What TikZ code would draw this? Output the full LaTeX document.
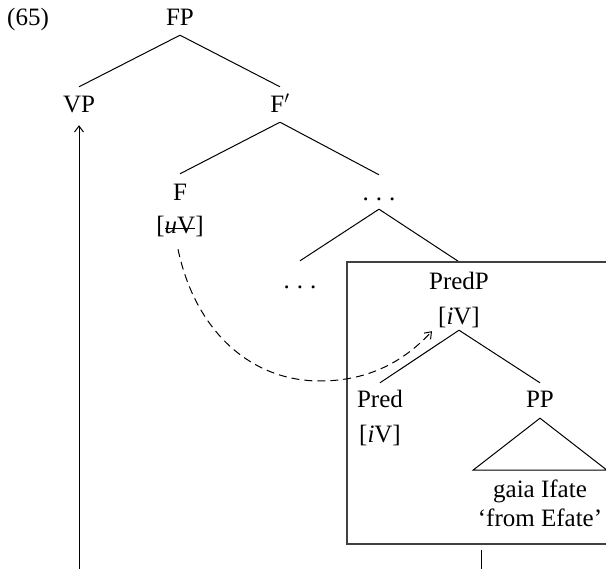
\documentclass[tikz,border=0pt]{standalone}
\usepackage{fontspec}
\setmainfont{Liberation Serif}
\usetikzlibrary{arrows.meta}
% strike a horizontal rule through the argument
\newcommand\strikethru[1]{\setbox0\hbox{#1}\rlap{\rule[0.2em]{\wd0}{0.9pt}}\box0}
\begin{document}
\begin{tikzpicture}[x=1pt,y=-1pt,
  every node/.style={font=\fontsize{25pt}{30pt}\selectfont, inner sep=0pt, anchor=base},
  lbl/.style={text height=16.5pt, text depth=0pt},
  feat/.style={text height=17.5pt, text depth=5pt},
  dotsnode/.style={text height=3pt, text depth=0pt},
  branch/.style={line width=1pt},
  framebox/.style={line width=1.3pt, draw=black!75},
  tip/.style={-{Straight Barb[length=6pt,width=9pt]}},
  movement/.style={line width=1pt, dash pattern=on 8pt off 5pt}]
\useasboundingbox (0,0) rectangle (606,569);

% example number
\node[lbl, anchor=base west] (exnum) at (7,26) {(65)};

% upper tree
\node[lbl] (FP) at (180,26) {FP};
\node[lbl] (VP) at (79,113) {VP};
\node[lbl] (Fbar) at (280,113) {F$'$};
\node[lbl] (F) at (180,201) {F};
\node[feat] (Ffeat) at (180,234) {[\strikethru{\textit{u}V}]};
\node[dotsnode] (dotsA) at (379,201) {.\hspace{0.28em}.\hspace{0.28em}.};
\node[dotsnode] (dotsB) at (300,289) {.\hspace{0.28em}.\hspace{0.28em}.};

% boxed PredP
\node[lbl] (PredP) at (459,290) {PredP};
\node[feat] (PredPfeat) at (459,325) {[\textit{i}V]};
\node[lbl] (Pred) at (380,408) {Pred};
\node[feat] (Predfeat) at (380,443) {[\textit{i}V]};
\node[lbl] (PP) at (540,408) {PP};
\node[lbl] (gaia) at (540,498) {gaia Ifate};
\node[lbl] (gloss) at (540,527) {`from Efate'};

% branches
\draw[branch] ([yshift=-9pt]FP.south) -- ([yshift=9.5pt]VP.north);
\draw[branch] ([yshift=-9pt]FP.south) -- ([yshift=9.5pt]Fbar.north);
\draw[branch] ([yshift=-9pt]Fbar.south) -- ([yshift=10.5pt]F.north);
\draw[branch] ([yshift=-9pt]Fbar.south) -- ([yshift=23pt]dotsA.north);
\draw[branch] ([yshift=-8pt]dotsA.south) -- ([yshift=25pt]dotsB.north);
\draw[branch] ([yshift=-8pt]dotsA.south) -- ([yshift=11.5pt]PredP.north);
\draw[branch] (PredPfeat.south) -- ([yshift=8.5pt]Pred.north);
\draw[branch] (PredPfeat.south) -- ([yshift=8.5pt]PP.north);
\draw[branch] ([yshift=-10pt]PP.south) -- +(-67,52) -- +(67,52) -- cycle;

% frame round PredP (open to the right)
\coordinate (boxTR) at (610,262);
\coordinate (boxTL) at (347,262);
\coordinate (boxBL) at (347,544);
\coordinate (boxBR) at (610,544);
\draw[framebox] (boxTR) -- (boxTL) -- (boxBL) -- (boxBR);

% stem below the frame
\coordinate (stemtop) at (481,550);
\coordinate (stembot) at (481,571);
\draw[branch] (stemtop) -- (stembot);

% VP movement
\coordinate (vpfoot) at (79,571);
\draw[branch, tip] (vpfoot) -- ([yshift=-12pt]VP.south);

% feature agreement
\draw[movement, tip] ([xshift=-2pt,yshift=-10pt]Ffeat.south)
  .. controls +(17,81) and +(-70,0) .. (320,381)
  .. controls +(50,0) and +(-27,29) .. ([xshift=-6pt,yshift=-1pt]PredPfeat.south west);
\end{tikzpicture}
\end{document}
